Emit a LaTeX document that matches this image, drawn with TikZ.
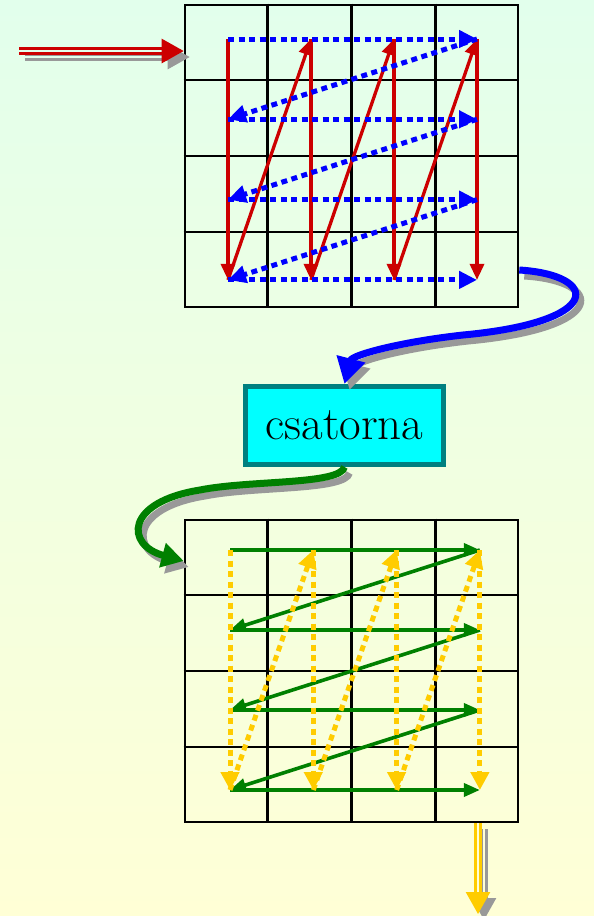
\documentclass[tikz,border=0pt]{standalone}
\usepackage{xcolor}
\usepackage{tikz}
\usetikzlibrary{arrows.meta, calc}
\definecolor{bgtop}{RGB}{226,255,236}
\definecolor{bgbot}{RGB}{255,255,214}
\definecolor{arrowred}{RGB}{204,0,0}
\definecolor{boxteal}{RGB}{0,128,128}
\definecolor{boxcyan}{RGB}{0,255,255}
\definecolor{shadowgray}{RGB}{153,153,153}
\definecolor{dotyellow}{RGB}{255,204,0}
\definecolor{pathgreen}{RGB}{0,128,0}
\tikzset{
  gridbox/.style={rectangle, draw=black, line width=2.6pt, inner sep=0pt},
  gridline/.style={draw=black, line width=2.6pt},
  scanred/.style={arrowred, line width=3.3pt,
                  -{Triangle[length=16pt, width=14pt]}},
  scanblue/.style={blue, line width=5pt, dash pattern=on 6pt off 4.5pt,
                   -{Triangle[length=18pt, width=17pt]}},
  scangreen/.style={pathgreen, line width=3.6pt,
                    -{Triangle[length=16pt, width=13pt]}},
  scanyellow/.style={dotyellow, line width=5pt, dash pattern=on 6pt off 4.5pt,
                     -{Triangle[length=18pt, width=18pt]}},
  bigarrow/.style={line width=7pt,
                   preaction={draw=shadowgray, line width=7pt,
                   transform canvas={shift={(5pt,-6pt)}}}},
  dblarrow/.style={line width=2.6pt, double distance=2.2pt, double=#1,
                   preaction={draw=shadowgray, line width=2.6pt,
                   double distance=2.2pt, double=#1,
                   transform canvas={shift={(6pt,-6pt)}}},
                   -{Triangle[length=22pt, width=24pt]}},
  channel/.style={rectangle, draw=boxteal, line width=5pt, fill=boxcyan,
                  minimum width=198pt, minimum height=78pt,
                  font=\fontsize{47}{50}\selectfont},
}

\begin{document}
\begin{tikzpicture}[x=1pt, y=-1pt]
  \useasboundingbox (0,0) rectangle (594,916);
  \shade[top color=bgtop, bottom color=bgbot] (0,0) rectangle (594,916);

  % Grids
  \node[gridbox, minimum width=333pt, minimum height=302pt] (topgrid)
    at (351.5,156) {};
  \node[gridbox, minimum width=333pt, minimum height=302pt] (botgrid)
    at (351.5,671) {};
  \foreach \g in {topgrid, botgrid}
    \foreach \k in {1,2,3} {
      \draw[gridline] ($(\g.north west)!\k/4!(\g.north east)$) --
                      ($(\g.south west)!\k/4!(\g.south east)$);
      \draw[gridline] ($(\g.north west)!\k/4!(\g.south west)$) --
                      ($(\g.north east)!\k/4!(\g.south east)$);
    }

  % Sample points
  \foreach \i in {1,...,4}
    \foreach \j in {1,...,4} {
      \coordinate (t\i\j) at ({228+(\i-1)*83},{39+(\j-1)*80.3});
      \coordinate (b\i\j) at ({230+(\i-1)*83.3},{550+(\j-1)*80});
    }

  % Channel box
  \node[channel] (csatorna) at (344.5,425.5) {csatorna};

  % Input and output
  \coordinate (src) at (19,51);
  \coordinate (sink) at (478,914);
  \draw[dblarrow=bgtop, arrowred] (src) -- (src -| topgrid.west);
  \draw[dblarrow=bgbot, dotyellow] (botgrid.south -| sink) -- (sink);

  % Top grid: column-wise (red), row-wise (blue)
  \foreach \i in {1,...,4}
    \draw[scanred] (t\i1) -- (t\i4);
  \foreach \i/\n in {1/2,2/3,3/4}
    \draw[scanred] (t\i4) -- (t\n1);
  \foreach \j in {1,...,4}
    \draw[scanblue] (t1\j) -- (t4\j);
  \foreach \j/\n in {1/2,2/3,3/4}
    \draw[scanblue] (t4\j) -- (t1\n);

  % Bottom grid: row-wise (green), column-wise (yellow)
  \foreach \j in {1,...,4}
    \draw[scangreen] (b1\j) -- (b4\j);
  \foreach \j/\n in {1/2,2/3,3/4}
    \draw[scangreen] (b4\j) -- (b1\n);
  \foreach \i in {1,...,4}
    \draw[scanyellow] (b\i1) -- (b\i4);
  \foreach \i/\n in {1/2,2/3,3/4}
    \draw[scanyellow] (b\i4) -- (b\n1);

  % Curved links
  \coordinate (topout) at (topgrid.east |- 0,270);
  \coordinate (botin) at (botgrid.west |- 0,561);
  \draw[bigarrow, blue, -{Triangle[length=26pt, width=28pt]}]
    (topout) .. controls (600,275) and (605,322) .. (463,335)
             .. controls (400,342) and (352,355) .. (csatorna.north);
  \draw[bigarrow, pathgreen, -{Triangle[length=22pt, width=24pt]}]
    (csatorna.south) .. controls (340,485) and (250,480) .. (200,490)
                     .. controls (125,502) and (125,545) .. (botin);
\end{tikzpicture}
\end{document}
